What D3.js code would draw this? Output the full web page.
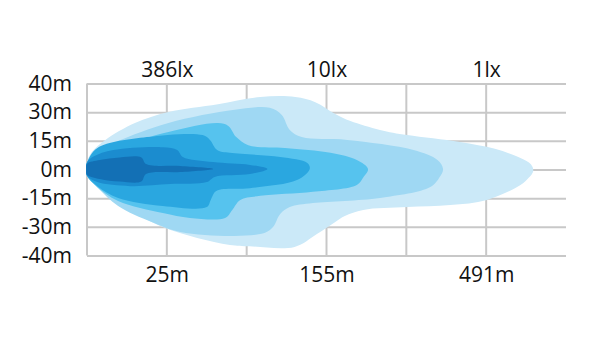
<!DOCTYPE html>
<html>
<head>
<meta charset="utf-8">
<script src="https://cdn.jsdelivr.net/npm/d3@7"></script>
<style>
  body { margin: 0; background: #fff; }
  text { font-family: "Open Sans", sans-serif; }
</style>
</head>
<body>
<script>
// labels
const yLabels = ["40m", "30m", "15m", "0m", "-15m", "-30m", "-40m"];
const distCols = [1, 3, 5];
const distLabels = ["25m", "155m", "491m"];
const luxLabels = ["386lx", "10lx", "1lx"];
const gridCols = [0, 1, 2, 3, 4, 5];

// iso-lux contours, [column, row] in grid units (outer -> inner)
const zone1 = [[0,0.24],[0.06,0.61],[0.23,1.03],[0.60,1.62],[1.02,2.01],[1.64,2.28],[2.17,2.53],[2.61,2.53],[2.86,2.35],[3.11,1.94],[3.30,1.69],[3.67,1.38],[4.01,1.20],[4.67,0.96],[5.11,0.72],[5.43,0.40],[5.56,0.18],[5.59,-0.05],[5.53,-0.30],[5.43,-0.54],[5.01,-1.06],[4.55,-1.24],[4.01,-1.31],[3.46,-1.41],[3.23,-1.62],[3.11,-1.83],[2.88,-2.25],[2.60,-2.70],[2.04,-2.68],[1.79,-2.63],[1.38,-2.39],[0.95,-2.01],[0.54,-1.41],[0.29,-0.89],[0.06,-0.44],[0,-0.22],[-0.01,0]];
const zone2 = [[0,0.24],[0.16,0.68],[0.39,0.99],[1.02,1.62],[1.85,2.08],[2.29,2.15],[2.44,1.90],[2.54,1.38],[2.69,1.13],[3.26,1.03],[4.09,0.68],[4.39,0.33],[4.46,0.02],[4.42,-0.25],[4.30,-0.61],[3.67,-0.99],[2.83,-1.17],[2.54,-1.31],[2.42,-1.55],[2.33,-2.01],[2.23,-2.21],[1.85,-2.32],[1.17,-2.18],[0.81,-1.83],[0.39,-1.27],[0.14,-0.65],[0,-0.22],[-0.01,0]];
const zone3 = [[0,0.24],[0.13,0.55],[0.39,0.80],[1.02,1.31],[1.64,1.62],[1.77,1.52],[1.87,1.13],[2.02,0.85],[2.48,0.75],[3.05,0.58],[3.38,0.33],[3.52,0.02],[3.46,-0.28],[3.38,-0.54],[2.83,-0.78],[2.17,-0.92],[1.92,-1.06],[1.82,-1.41],[1.73,-1.69],[1.29,-1.69],[0.95,-1.52],[0.39,-1.10],[0.10,-0.54],[0,-0.22],[-0.01,0]];
const zone4 = [[0,0.24],[0.13,0.75],[0.75,1.13],[1.45,1.20],[1.54,1.03],[1.63,0.68],[1.79,0.58],[2.42,0.44],[2.76,0.23],[2.79,0.02],[2.63,-0.37],[2.04,-0.65],[1.62,-0.75],[1.55,-1.06],[1.50,-1.31],[0.95,-1.27],[0.39,-0.99],[0.13,-0.58],[0,-0.22],[-0.01,0]];
const zone5 = [[0,0.24],[0.08,0.45],[0.33,0.68],[0.95,0.78],[1.13,0.68],[1.20,0.44],[1.58,0.26],[2.04,0.16],[2.26,0.02],[2.04,-0.16],[1.60,-0.26],[1.50,-0.44],[1.04,-0.51],[0.54,-0.58],[0.13,-0.44],[0,-0.22],[-0.01,0]];
const zone6 = [[0,0.2],[0.16,0.33],[0.41,0.42],[0.68,0.42],[0.74,0.19],[1.17,0.12],[1.58,0.02],[1.17,-0.09],[0.74,-0.16],[0.68,-0.42],[0.41,-0.42],[0.16,-0.33],[0,-0.18],[-0.01,0]];

const zones = [zone1, zone2, zone3, zone4, zone5, zone6];
const colors = ["#cbe9f8", "#9fd8f3", "#56c3ee", "#2aa7e0", "#1b8ccf", "#1370b5"];

const w = 598, h = 350;
const gLeft = 87, gRight = 566, gTop = 83.5, gBottom = 255.5;

const svg = d3.select("body").append("svg")
    .attr("width", w)
    .attr("height", h);

const x = d3.scaleLinear().domain([0, 6]).range([gLeft, gRight]);
const y = d3.scaleLinear().domain([3, -3]).range([gTop, gBottom]);
const yBand = d3.scalePoint().domain(yLabels).range([gTop, gBottom]);

// horizontal grid + y labels
const yAxis = svg.append("g")
    .attr("transform", `translate(${gLeft},0)`)
    .call(d3.axisLeft(yBand).tickSize(-(gRight - gLeft)).tickPadding(15));
yAxis.select(".domain").remove();
yAxis.selectAll("line").attr("stroke", "#c8c8c8").attr("stroke-width", 2);

// vertical grid
svg.append("g").selectAll("line")
    .data(gridCols)
    .enter().append("line")
    .attr("x1", (d) => x(d)).attr("x2", (d) => x(d))
    .attr("y1", gTop).attr("y2", gBottom)
    .attr("stroke", "#c8c8c8")
    .attr("stroke-width", 2);

// beam zones
const line = d3.line()
    .x((d) => x(d[0]))
    .y((d) => y(d[1]))
    .curve(d3.curveCatmullRomClosed.alpha(0.5));

svg.append("g").selectAll("path")
    .data(zones)
    .enter().append("path")
    .attr("d", line)
    .attr("fill", (d, i) => colors[i]);

// distance labels
const xAxis = svg.append("g")
    .attr("transform", `translate(0,${gBottom})`)
    .call(d3.axisBottom(x).tickValues(distCols).tickSize(0).tickPadding(12)
        .tickFormat((d, i) => distLabels[i]));
xAxis.select(".domain").remove();

// lux labels
const luxAxis = svg.append("g")
    .attr("transform", `translate(0,${gTop})`)
    .call(d3.axisTop(x).tickValues(distCols).tickSize(0).tickPadding(7)
        .tickFormat((d, i) => luxLabels[i]));
luxAxis.select(".domain").remove();

svg.selectAll(".tick text")
    .attr("font-family", "'Open Sans', sans-serif")
    .attr("font-size", 21)
    .attr("fill", "#111");
</script>
</body>
</html>
